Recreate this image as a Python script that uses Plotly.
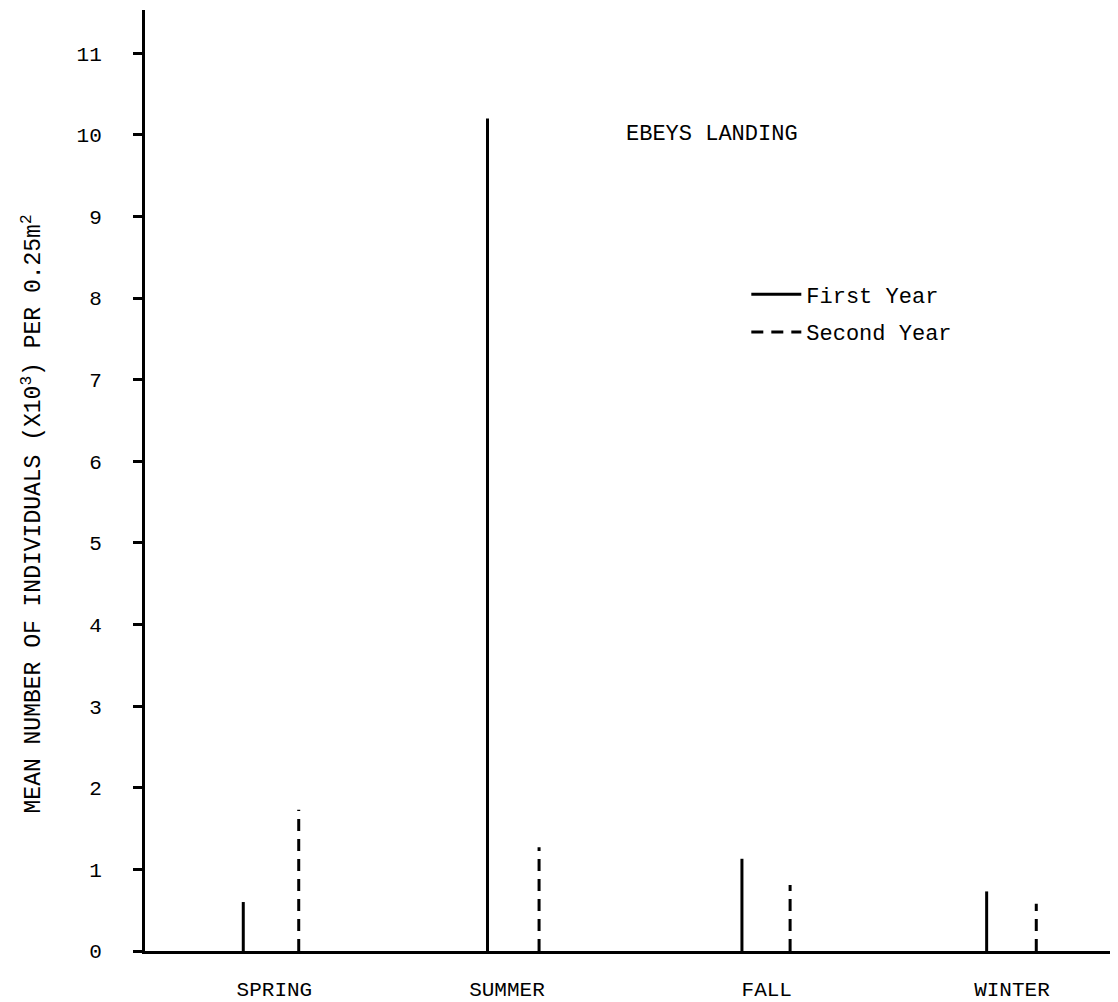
import plotly.graph_objects as go

# ---- data ----
seasons = ["SPRING", "SUMMER", "FALL", "WINTER"]
season_pos = [1.33, 3.72, 6.39, 8.91]          # label positions on a 0-10 x scale
first_pos = [1.01, 3.52, 6.135, 8.65]
second_pos = [1.58, 4.05, 6.63, 9.16]
first_year = [0.60, 10.2, 1.13, 0.73]
second_year = [1.73, 1.27, 0.81, 0.58]
y_ticks = list(range(0, 12))

FONT = "Liberation Mono"


def stems(xs, ys):
    X, Y = [], []
    for x, y in zip(xs, ys):
        X += [x, x, None]
        Y += [0, y, None]
    return X, Y


fig = go.Figure()
x1, y1 = stems(first_pos, first_year)
fig.add_trace(go.Scatter(x=x1, y=y1, mode="lines", name="First Year",
                         legendgroup="a",
                         line=dict(color="black", width=3)))
x2, y2 = stems(second_pos, second_year)
fig.add_trace(go.Scatter(x=x2, y=y2, mode="lines", name="Second Year",
                         legendgroup="b",
                         line=dict(color="black", width=3, dash="12px,8px")))

# page body adds an 8px margin, so the figure is 8px smaller on each side
fig.update_layout(
    width=1110, height=994,
    margin=dict(l=137, r=0, t=2, b=47),
    paper_bgcolor="white", plot_bgcolor="white",
    font=dict(family=FONT, size=21, color="black"),
    showlegend=True,
    legend=dict(x=0.618, y=0.72, xanchor="left", yanchor="top",
                bgcolor="rgba(0,0,0,0)", tracegroupgap=6, itemwidth=50,
                font=dict(family=FONT, size=22)),
    xaxis=dict(range=[0, 10], showgrid=False, zeroline=False,
               showline=True, linecolor="black", linewidth=3,
               tickmode="array", tickvals=season_pos, ticktext=seasons,
               ticks="", ticklabelstandoff=17,
               tickfont=dict(family=FONT, size=21)),
    yaxis=dict(range=[0, 11.53], showgrid=False, zeroline=False,
               showline=True, linecolor="black", linewidth=3,
               tickmode="array", tickvals=y_ticks,
               ticks="outside", ticklen=9, tickwidth=2.5, tickcolor="black",
               ticklabelstandoff=27,
               tickfont=dict(family=FONT, size=21)),
    annotations=[
        dict(text="EBEYS LANDING", xref="paper", yref="paper",
             x=(624 - 145) / 973, y=(952 - 135) / 942,
             xanchor="left", yanchor="middle", showarrow=False,
             font=dict(family=FONT, size=22)),
        dict(text="MEAN NUMBER OF INDIVIDUALS (X10<sup>3</sup>) PER 0.25m<sup>2</sup>",
             xref="paper", yref="paper", textangle=-90,
             x=(33 - 145) / 973, y=(952 - 515) / 942,
             xanchor="center", yanchor="middle", showarrow=False,
             font=dict(family=FONT, size=23)),
    ],
)

fig.write_html("out.html")
